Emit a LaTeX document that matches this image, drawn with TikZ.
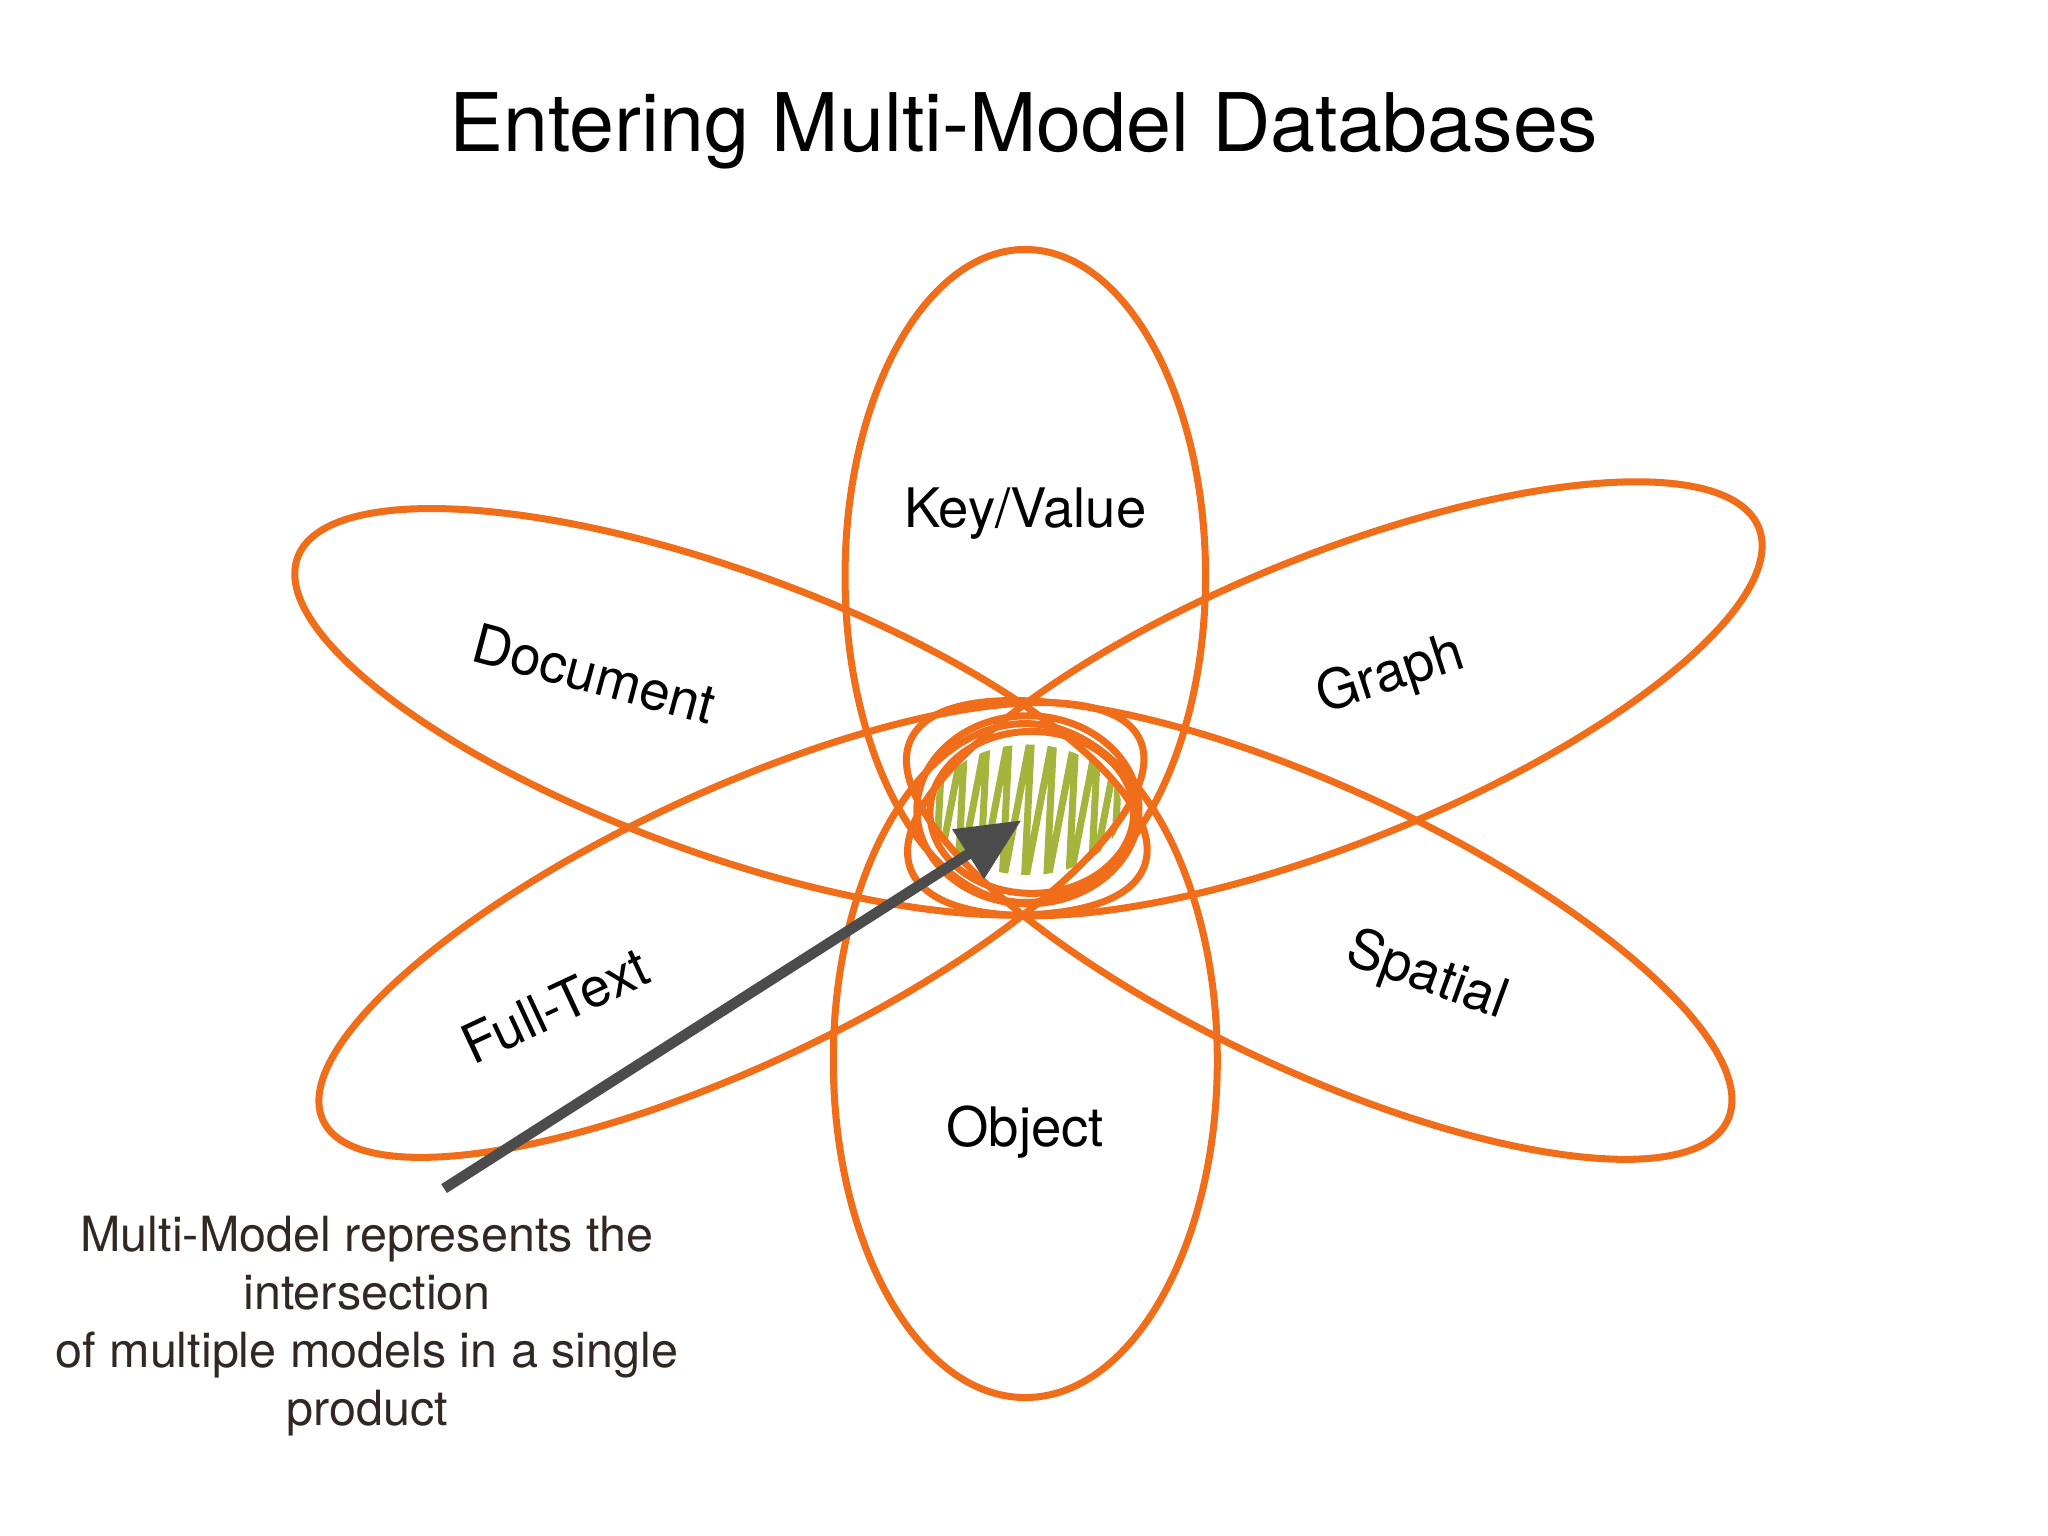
\documentclass[tikz,border=0pt]{standalone}
\usepackage{fontspec}
\setmainfont{TeX Gyre Heros}
\usetikzlibrary{arrows.meta}
\definecolor{orb}{RGB}{240,110,25}
\definecolor{grn}{RGB}{165,180,60}
\definecolor{txt}{RGB}{50,40,35}
\begin{document}
\begin{tikzpicture}[x=0.013061cm,y=0.013061cm,
  orbit/.style={draw=orb,line width=2pt},
  lab/.style={font=\fontsize{15.5}{18}\selectfont,text=black}]
\useasboundingbox[fill=white] (0,0) rectangle (1568,-1176);
\node[font=\fontsize{23}{27}\selectfont] (title) at (784,-100) {Entering Multi-Model Databases};
% green hatch
\begin{scope}
\clip (787,-620) ellipse [x radius=72, y radius=50];
\draw[grn,line width=2pt,line join=round] (700,-680) \foreach \i in {0,...,9} {-- ({722+\i*17},-560) -- ({716+\i*17},-680)};
\end{scope}
\draw[orbit] (785,-441) ellipse [x radius=138, y radius=250];
\draw[orbit] (785,-812) ellipse [x radius=147, y radius=258];
\draw[orbit,rotate around={-20:(552,-545)}] (552,-545) ellipse [x radius=345, y radius=108];
\draw[orbit,rotate around={22:(1022,-535)}] (1022,-535) ellipse [x radius=350, y radius=110];
\draw[orbit,rotate around={25:(560,-712)}] (560,-712) ellipse [x radius=345, y radius=105];
\draw[orbit,rotate around={-25:(1010,-712)}] (1010,-712) ellipse [x radius=345, y radius=108];
\draw[orbit] (787,-620) ellipse [x radius=85, y radius=72];
\draw[orbit] (790,-622) ellipse [x radius=78, y radius=62];
\node[lab] (kv) at (785,-393) {Key/Value};
\node[lab,rotate=-15] (doc) at (455,-516) {Document};
\node[lab,rotate=18] (gr) at (1065,-518) {Graph};
\node[lab,rotate=25] (ft) at (425,-770) {Full-Text};
\node[lab,rotate=-20] (sp) at (1092,-748) {Spatial};
\node[lab] (ob) at (785,-867) {Object};
\coordinate (tail) at (340,-910);
\coordinate (tip) at (782,-628);
\draw[draw=black!70,line width=3pt,-{Triangle[length=18pt,width=16pt]}] (tail) -- (tip);
\node[align=center,text=txt,font=\fontsize{13.8}{16.5}\selectfont] (note) at (281,-1015) {Multi-Model represents the\\intersection\\of multiple models in a single\\product};
\end{tikzpicture}
\end{document}
